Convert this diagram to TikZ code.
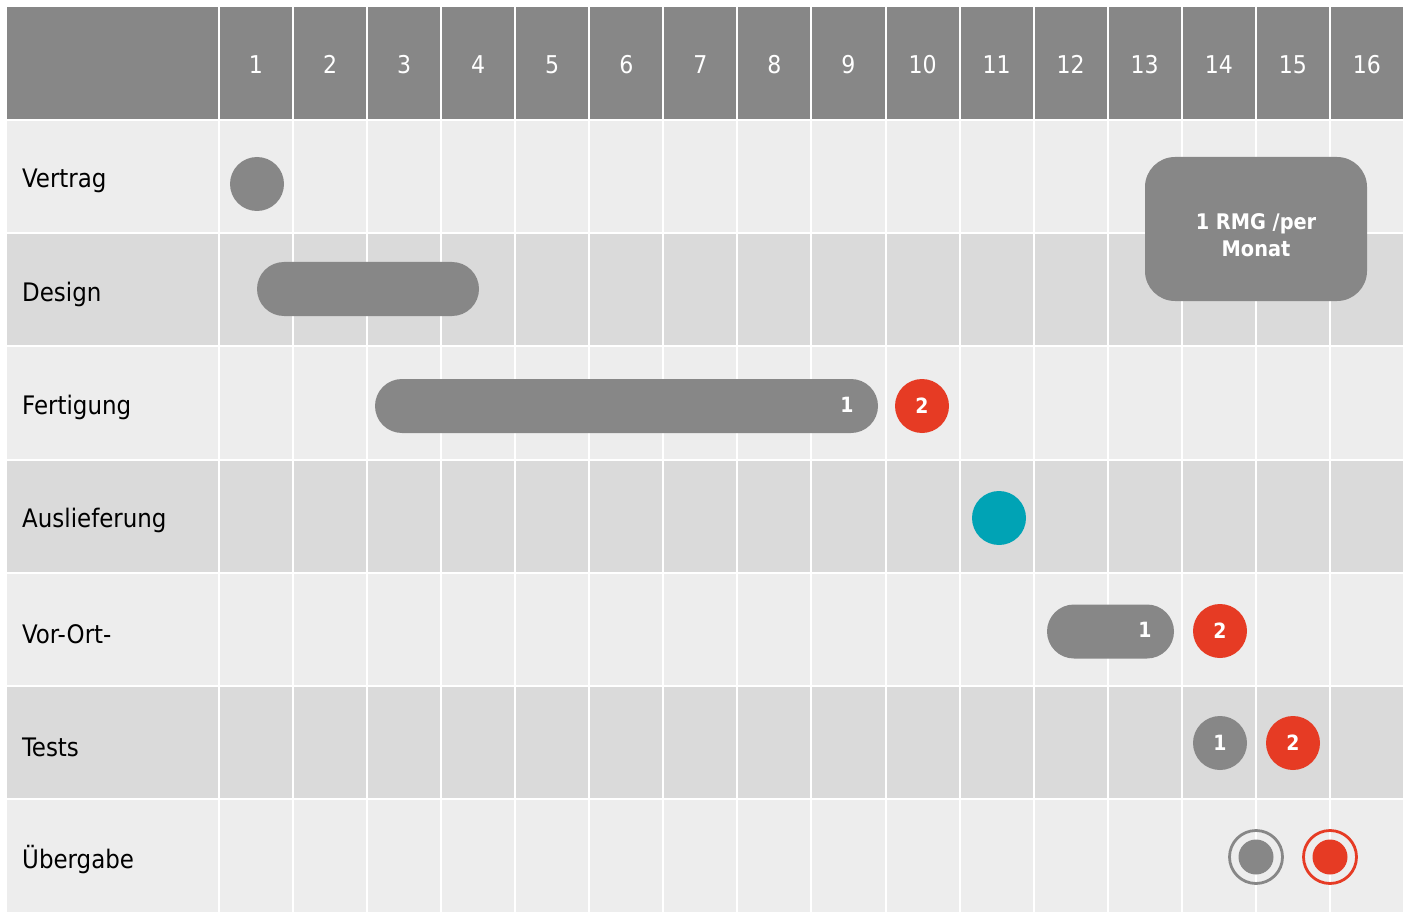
\documentclass[tikz,border=0pt]{standalone}
\usepackage{fontspec}
\setmainfont{DejaVu Sans Condensed}
\definecolor{hdr}{HTML}{878787}
\definecolor{rowA}{HTML}{EDEDED}
\definecolor{rowB}{HTML}{DADADA}
\definecolor{gbar}{HTML}{878787}
\definecolor{rd}{HTML}{E63B24}
\definecolor{teal}{HTML}{00A3B5}
\tikzset{
  hdrnum/.style={text=white, anchor=base, inner sep=0pt, font=\fontsize{24.5}{28}\selectfont},
  rowlabel/.style={anchor=west, text=black, font=\fontsize{25.5}{30}\selectfont, inner sep=0pt},
  dot/.style={circle, fill=#1, minimum size=54pt, inner sep=0pt, text=white, font=\bfseries\fontsize{21}{24}\selectfont},
  bar/.style={fill=gbar, rounded corners=27pt, minimum height=54pt, inner sep=0pt},
  barnum/.style={text=white, font=\bfseries\fontsize{21}{24}\selectfont, inner sep=0pt},
  ring/.style={circle, draw=#1, line width=2.8pt, minimum size=53pt, inner sep=0pt},
  core/.style={circle, fill=#1, minimum size=35pt, inner sep=0pt},
}
\begin{document}
\begin{tikzpicture}[x=1pt,y=-1pt]
\useasboundingbox (0,0) rectangle (1409,912);
\fill[white] (0,0) rectangle (1409,912);
% header and rows
\fill[hdr] (7,7) rectangle (1404,120);
\foreach \r in {1,...,7}{
  \pgfmathtruncatemacro{\odd}{mod(\r,2)}
  \ifnum\odd=1 \def\rc{rowA}\else\def\rc{rowB}\fi
  \fill[\rc] (7,{120+(\r-1)*113.2}) rectangle (1404,{120+\r*113.2});
}
% grid lines
\foreach \k in {0,...,16}{
  \draw[white, line width=2pt] ({219+\k*74.06},7) -- ({219+\k*74.06},912);
}
\foreach \k in {0,...,6}{
  \draw[white, line width=2pt] (7,{120+\k*113.2}) -- (1404,{120+\k*113.2});
}
% header numbers
\foreach \i in {1,...,16}{
  \node[hdrnum] (h\i) at ({256+(\i-1)*74.06},74) {\i};
}
% row labels
\node[rowlabel] (lVertrag) at (22,181) {Vertrag};
\node[rowlabel] (lDesign) at (22,294) {Design};
\node[rowlabel] (lFertigung) at (22,407) {Fertigung};
\node[rowlabel] (lAusl) at (22,520) {Auslieferung};
\node[rowlabel] (lVorOrt) at (22,634) {Vor-Ort-};
\node[rowlabel] (lTests) at (22,747) {Tests};
\node[rowlabel] (lUeb) at (22,860) {Übergabe};
% Vertrag
\node[dot=gbar] (vertrag) at (257,184) {};
% RMG box
\node[fill=gbar, rounded corners=30pt, minimum width=222pt, minimum height=144pt, inner sep=0pt] (rmg) at (1256,229) {};
\node[text=white, align=center, font=\bfseries\fontsize{21.5}{27}\selectfont] (rmgtext) at (1256,235) {1 RMG /per\\Monat};
% Design
\node[bar, minimum width=222pt] (design) at (368,289) {};
% Fertigung
\node[bar, minimum width=503pt] (fert) at (626.5,406) {};
\node[barnum] (fert1) at (847,405) {1};
\node[dot=rd] (fert2) at (922,406) {2};
% Auslieferung
\node[dot=teal] (ausl) at (999,518) {};
% Vor-Ort
\node[bar, minimum width=127pt] (vor) at (1110.5,631.5) {};
\node[barnum] (vor1) at (1145,630) {1};
\node[dot=rd] (vor2) at (1220,631) {2};
% Tests
\node[dot=gbar] (t1) at (1220,743) {1};
\node[dot=rd] (t2) at (1293,743) {2};
% Uebergabe
\node[ring=gbar] (u1r) at (1256,857) {};
\node[core=gbar] (u1) at (1256,857) {};
\node[ring=rd] (u2r) at (1330,857) {};
\node[core=rd] (u2) at (1330,857) {};
\end{tikzpicture}
\end{document}
